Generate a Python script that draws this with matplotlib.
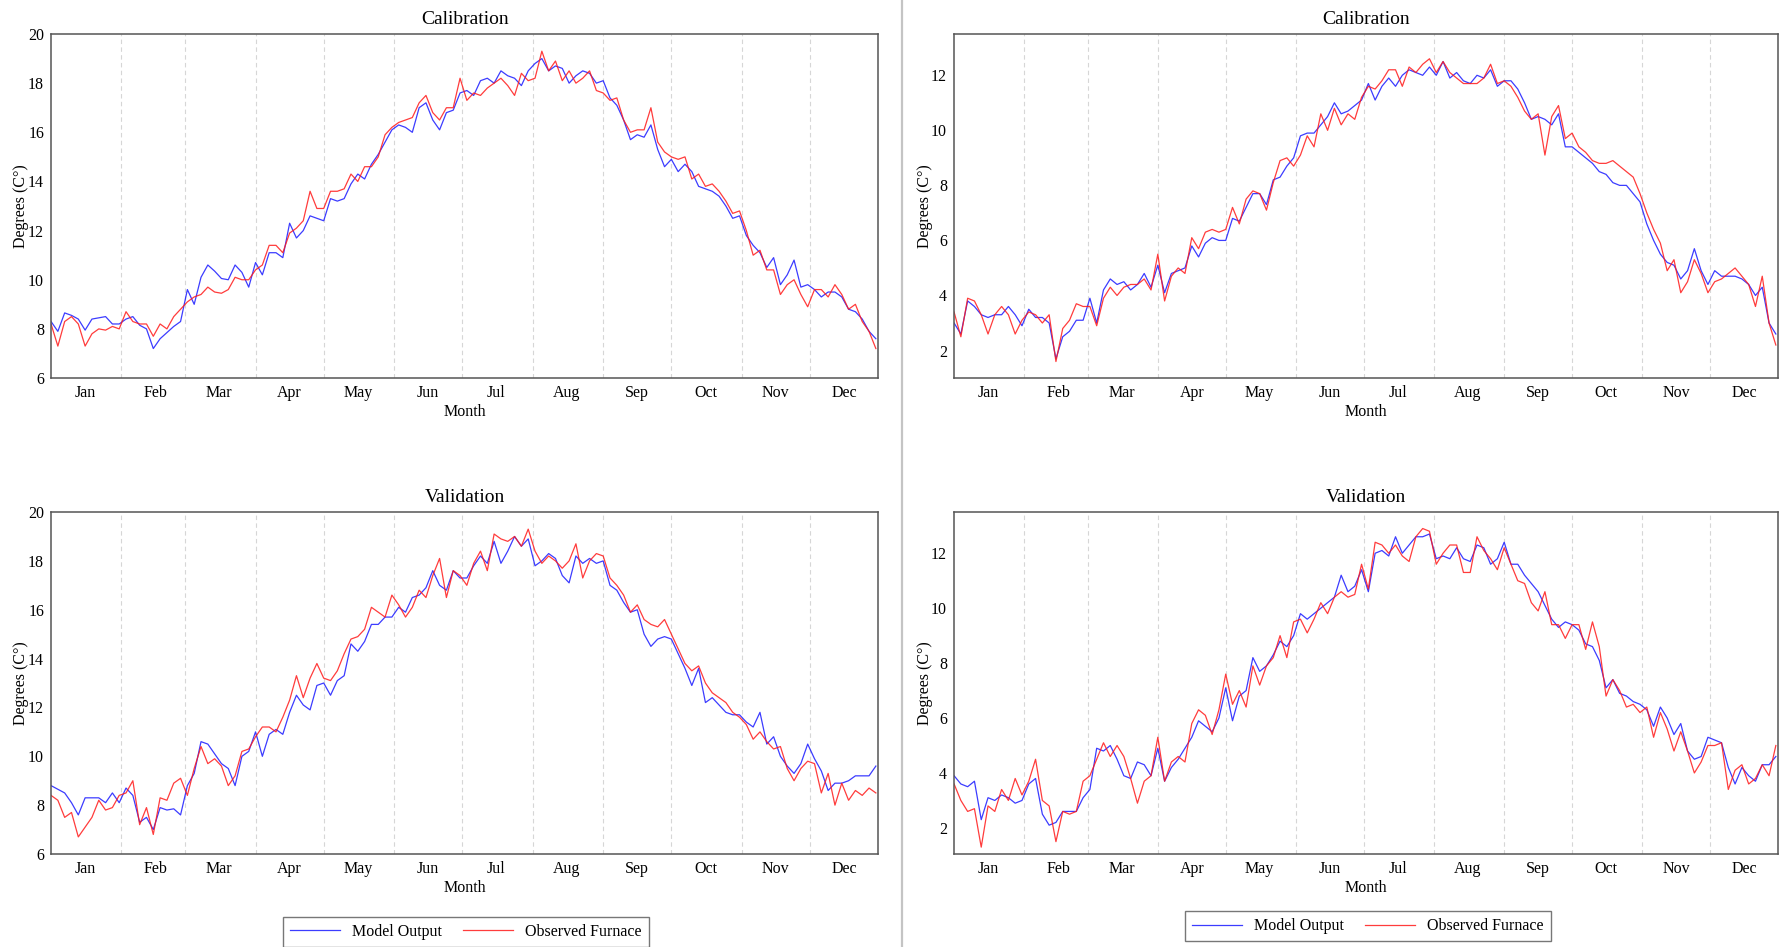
import numpy as np
import matplotlib
matplotlib.use("Agg")
import matplotlib.pyplot as plt
from matplotlib.lines import Line2D

plt.rcParams['font.family'] = ['Liberation Serif', 'DejaVu Serif']

# sampled every 3 days, day of year 0..363
days = np.arange(0, 365, 3)

month_names = ['Jan', 'Feb', 'Mar', 'Apr', 'May', 'Jun', 'Jul', 'Aug', 'Sep', 'Oct', 'Nov', 'Dec']
month_start = [0, 31, 59, 90, 120, 151, 181, 212, 243, 273, 304, 334]

# top left - calibration
cal_left_model = [8.3, 7.9, 8.65, 8.55, 8.4, 7.95, 8.4, 8.45, 8.5, 8.2, 8.2,
                  8.4, 8.5, 8.15, 8.0, 7.2, 7.6, 7.85, 8.1, 8.3,
                  9.6, 9.0, 10.1, 10.6, 10.35, 10.05, 10.0, 10.6, 10.3, 9.7,
                  10.7, 10.2, 11.1, 11.1, 10.9, 12.3, 11.7, 12.0, 12.6, 12.5,
                  12.4, 13.3, 13.2, 13.3, 13.9, 14.3, 14.1, 14.7, 15.1, 15.6, 16.1,
                  16.3, 16.2, 16.0, 17.0, 17.2, 16.5, 16.1, 16.8, 16.9, 17.6,
                  17.7, 17.5, 18.1, 18.2, 18.0, 18.5, 18.3, 18.2, 17.9, 18.5,
                  18.8, 19.0, 18.5, 18.7, 18.6, 18.0, 18.3, 18.5, 18.4, 18.0,
                  18.1, 17.4, 17.1, 16.5, 15.7, 15.9, 15.8, 16.3, 15.3, 14.6,
                  14.9, 14.4, 14.7, 14.4, 13.8, 13.7, 13.6, 13.4, 13.0, 12.5, 12.6,
                  11.8, 11.4, 11.1, 10.5, 10.9, 9.8, 10.2, 10.8, 9.7, 9.8,
                  9.6, 9.3, 9.5, 9.5, 9.3, 8.8, 8.7, 8.4, 7.9, 7.6]
cal_left_obs = [8.2, 7.3, 8.3, 8.5, 8.2, 7.3, 7.8, 8.0, 7.95, 8.1, 8.0,
                8.7, 8.3, 8.2, 8.2, 7.7, 8.2, 8.0, 8.5, 8.8,
                9.1, 9.3, 9.4, 9.7, 9.5, 9.45, 9.6, 10.1, 10.0, 10.0,
                10.4, 10.6, 11.4, 11.4, 11.1, 11.9, 12.1, 12.4, 13.6, 12.9,
                12.9, 13.6, 13.6, 13.7, 14.3, 14.0, 14.6, 14.6, 15.0, 15.9, 16.2,
                16.4, 16.5, 16.6, 17.2, 17.5, 16.8, 16.5, 17.0, 17.0, 18.2,
                17.3, 17.6, 17.5, 17.8, 18.0, 18.2, 17.9, 17.5, 18.4, 18.1,
                18.2, 19.3, 18.5, 18.9, 18.1, 18.5, 18.0, 18.2, 18.5, 17.7,
                17.6, 17.3, 17.4, 16.5, 16.0, 16.1, 16.1, 17.0, 15.6, 15.2,
                15.0, 14.9, 15.0, 14.1, 14.3, 13.8, 13.9, 13.6, 13.2, 12.7, 12.8,
                12.0, 11.0, 11.2, 10.4, 10.4, 9.4, 9.8, 10.0, 9.4, 8.9,
                9.6, 9.6, 9.3, 9.8, 9.4, 8.8, 9.0, 8.3, 7.9, 7.2]

# bottom left - validation
val_left_model = [8.8, 8.65, 8.5, 8.1, 7.6, 8.3, 8.3, 8.3, 8.1, 8.5, 8.1,
                  8.7, 8.4, 7.3, 7.5, 7.0, 7.9, 7.8, 7.85, 7.6,
                  8.8, 9.3, 10.6, 10.5, 10.1, 9.7, 9.5, 8.8, 10.0, 10.2,
                  11.0, 10.0, 10.9, 11.1, 10.9, 11.8, 12.5, 12.1, 11.9, 12.9,
                  13.0, 12.5, 13.1, 13.3, 14.6, 14.3, 14.7, 15.4, 15.4, 15.7, 15.7,
                  16.1, 15.9, 16.5, 16.6, 16.9, 17.6, 17.0, 16.8, 17.6, 17.3,
                  17.3, 17.8, 18.2, 17.9, 18.8, 17.9, 18.4, 19.0, 18.6, 18.9,
                  17.8, 18.0, 18.3, 18.1, 17.4, 17.1, 18.2, 17.9, 18.1, 17.9,
                  18.0, 17.0, 16.8, 16.3, 15.9, 16.0, 15.0, 14.5, 14.8, 14.9,
                  14.8, 14.2, 13.6, 12.9, 13.6, 12.2, 12.4, 12.1, 11.8, 11.7, 11.7,
                  11.4, 11.2, 11.8, 10.5, 10.8, 10.0, 9.6, 9.3, 9.7, 10.5,
                  9.9, 9.4, 8.6, 8.9, 8.9, 9.0, 9.2, 9.2, 9.2, 9.6]
val_left_obs = [8.4, 8.2, 7.5, 7.7, 6.7, 7.1, 7.5, 8.2, 7.8, 7.9, 8.4,
                8.5, 9.0, 7.2, 7.9, 6.8, 8.3, 8.2, 8.9, 9.1,
                8.4, 9.5, 10.4, 9.7, 9.9, 9.6, 8.8, 9.2, 10.2, 10.3,
                10.8, 11.2, 11.2, 11.0, 11.6, 12.3, 13.3, 12.4, 13.2, 13.8,
                13.2, 13.1, 13.5, 14.2, 14.8, 14.9, 15.2, 16.1, 15.9, 15.7, 16.6,
                16.2, 15.7, 16.1, 16.8, 16.5, 17.4, 18.1, 16.5, 17.6, 17.4,
                17.0, 17.9, 18.4, 17.6, 19.1, 18.9, 18.8, 19.0, 18.6, 19.3,
                18.4, 17.9, 18.2, 18.0, 17.7, 18.0, 18.7, 17.3, 18.0, 18.3,
                18.2, 17.3, 17.0, 16.6, 15.9, 16.2, 15.6, 15.4, 15.3, 15.6,
                15.0, 14.4, 13.8, 13.5, 13.7, 13.0, 12.6, 12.4, 12.2, 11.8, 11.6,
                11.3, 10.7, 11.0, 10.6, 10.3, 10.4, 9.5, 9.0, 9.5, 9.8,
                9.7, 8.5, 9.3, 8.0, 8.9, 8.2, 8.6, 8.4, 8.7, 8.5]

# top right - calibration
cal_right_model = [3.0, 2.6, 3.8, 3.6, 3.3, 3.2, 3.3, 3.3, 3.6, 3.3, 2.9,
                   3.5, 3.2, 3.2, 3.0, 1.7, 2.5, 2.7, 3.1, 3.1,
                   3.9, 3.0, 4.2, 4.6, 4.4, 4.5, 4.2, 4.4, 4.8, 4.3,
                   5.1, 4.1, 4.8, 4.9, 5.0, 5.8, 5.4, 5.9, 6.1, 6.0,
                   6.0, 6.8, 6.7, 7.2, 7.7, 7.7, 7.3, 8.2, 8.3, 8.7, 9.0,
                   9.8, 9.9, 9.9, 10.2, 10.5, 11.0, 10.6, 10.7, 10.9, 11.1,
                   11.7, 11.1, 11.6, 11.9, 11.6, 12.0, 12.2, 12.1, 12.0, 12.3,
                   12.0, 12.5, 11.9, 12.1, 11.8, 11.7, 12.0, 11.9, 12.2, 11.6,
                   11.8, 11.8, 11.5, 11.0, 10.4, 10.5, 10.4, 10.2, 10.6, 9.4,
                   9.4, 9.2, 9.0, 8.8, 8.5, 8.4, 8.1, 8.0, 8.0, 7.7, 7.4,
                   6.6, 6.0, 5.5, 5.2, 5.1, 4.6, 4.9, 5.7, 4.9, 4.4,
                   4.9, 4.7, 4.7, 4.7, 4.6, 4.4, 4.0, 4.3, 3.0, 2.6]
cal_right_obs = [3.4, 2.5, 3.9, 3.8, 3.3, 2.6, 3.3, 3.6, 3.3, 2.6, 3.1,
                 3.4, 3.3, 3.0, 3.3, 1.6, 2.8, 3.1, 3.7, 3.6,
                 3.6, 2.9, 3.9, 4.3, 4.0, 4.3, 4.4, 4.4, 4.6, 4.2,
                 5.5, 3.8, 4.7, 5.0, 4.8, 6.1, 5.7, 6.3, 6.4, 6.3,
                 6.4, 7.2, 6.6, 7.5, 7.8, 7.7, 7.1, 8.1, 8.9, 9.0, 8.7,
                 9.1, 9.8, 9.4, 10.6, 10.0, 10.8, 10.2, 10.6, 10.4, 11.2,
                 11.6, 11.5, 11.8, 12.2, 12.2, 11.6, 12.3, 12.1, 12.4, 12.6,
                 12.1, 12.5, 12.1, 11.9, 11.7, 11.7, 11.7, 11.9, 12.4, 11.7,
                 11.8, 11.6, 11.2, 10.7, 10.4, 10.6, 9.1, 10.5, 10.9, 9.7,
                 9.9, 9.4, 9.2, 8.9, 8.8, 8.8, 8.9, 8.7, 8.5, 8.3, 7.7,
                 7.0, 6.4, 5.9, 4.9, 5.3, 4.1, 4.5, 5.3, 4.8, 4.1,
                 4.5, 4.6, 4.8, 5.0, 4.7, 4.4, 3.6, 4.7, 3.0, 2.2]

# bottom right - validation
val_right_model = [3.9, 3.6, 3.5, 3.7, 2.3, 3.1, 3.0, 3.2, 3.1, 2.9, 3.0,
                   3.6, 3.8, 2.5, 2.1, 2.2, 2.6, 2.6, 2.6, 3.1,
                   3.4, 4.9, 4.8, 5.0, 4.5, 3.9, 3.8, 4.4, 4.3, 3.9,
                   4.9, 3.7, 4.2, 4.5, 4.9, 5.3, 5.9, 5.7, 5.5, 6.0,
                   7.1, 5.9, 6.8, 7.0, 8.2, 7.7, 7.9, 8.3, 8.8, 8.6, 9.0,
                   9.8, 9.6, 9.8, 10.0, 10.2, 10.4, 11.2, 10.6, 10.8, 11.4,
                   10.6, 12.0, 12.1, 11.9, 12.6, 12.0, 12.3, 12.6, 12.6, 12.7,
                   11.8, 11.9, 11.8, 12.2, 11.8, 11.7, 12.3, 12.2, 11.6, 11.8,
                   12.4, 11.6, 11.6, 11.2, 10.9, 10.6, 10.1, 9.6, 9.3, 9.5,
                   9.4, 9.2, 8.7, 8.6, 8.1, 7.1, 7.4, 6.9, 6.8, 6.6, 6.5,
                   6.3, 5.7, 6.4, 6.0, 5.4, 5.8, 4.8, 4.5, 4.6, 5.3,
                   5.2, 5.1, 4.2, 3.6, 4.2, 3.9, 3.7, 4.3, 4.3, 4.6]
val_right_obs = [3.6, 3.0, 2.6, 2.7, 1.3, 2.8, 2.6, 3.4, 3.0, 3.8, 3.2,
                 3.7, 4.5, 3.0, 2.8, 1.5, 2.6, 2.5, 2.6, 3.7,
                 3.9, 4.5, 5.1, 4.6, 5.0, 4.6, 3.8, 2.9, 3.7, 3.9,
                 5.3, 3.7, 4.4, 4.6, 4.4, 5.8, 6.3, 6.1, 5.4, 6.3,
                 7.6, 6.5, 7.0, 6.4, 7.9, 7.2, 7.9, 8.2, 9.0, 8.2, 9.5,
                 9.6, 9.1, 9.6, 10.2, 9.8, 10.4, 10.6, 10.4, 10.5, 11.6,
                 10.7, 12.4, 12.3, 12.0, 12.3, 11.9, 11.7, 12.6, 12.9, 12.8,
                 11.6, 12.0, 12.3, 12.3, 11.3, 11.3, 12.6, 12.1, 11.8, 11.4,
                 12.2, 11.6, 11.0, 10.9, 10.2, 9.9, 10.6, 9.4, 9.4, 8.9,
                 9.4, 9.4, 8.5, 9.5, 8.6, 6.8, 7.4, 7.0, 6.4, 6.5, 6.2,
                 6.4, 5.3, 6.2, 5.6, 4.8, 5.5, 4.8, 4.0, 4.4, 5.0,
                 5.0, 5.1, 3.4, 4.1, 4.3, 3.6, 3.8, 4.3, 3.9, 5.0]

fig = plt.figure(figsize=(17.91, 9.47), dpi=100)

panels = [
    ([0.0285, 0.6008, 0.4618, 0.3633], 'Calibration', cal_left_model, cal_left_obs, (6, 20), range(6, 21, 2)),
    ([0.0285, 0.0982, 0.4618, 0.3611], 'Validation', val_left_model, val_left_obs, (6, 20), range(6, 21, 2)),
    ([0.5327, 0.6008, 0.4601, 0.3633], 'Calibration', cal_right_model, cal_right_obs, (1.0, 13.5), range(2, 13, 2)),
    ([0.5327, 0.0982, 0.4601, 0.3611], 'Validation', val_right_model, val_right_obs, (1.05, 13.5), range(2, 13, 2)),
]

axes = []
for rect, title, model, obs, ylim, yt in panels:
    ax = fig.add_axes(rect)
    ax.plot(days, model, color='#1a1aff', linewidth=0.9, alpha=0.85, label='Model Output')
    ax.plot(days, obs, color='#ff1a1a', linewidth=0.9, alpha=0.85, label='Observed Furnace')
    for m in month_start[1:]:
        ax.axvline(m, color='#d6d6d6', linestyle=(0, (4, 3)), linewidth=0.8, zorder=0)
    ax.set_xlim(0, 364)
    ax.set_ylim(*ylim)
    ax.set_yticks(list(yt))
    ax.set_xticks([s + 15 for s in month_start])
    ax.set_xticklabels(month_names)
    ax.tick_params(length=0, labelsize=11.5, pad=5)
    for sp in ax.spines.values():
        sp.set_color('#555555')
        sp.set_linewidth(1.1)
    ax.set_title(title, fontsize=14, pad=7)
    ax.set_xlabel('Month', fontsize=11.5, labelpad=2)
    ax.set_ylabel('Degrees (C°)', fontsize=11.5, labelpad=-1)
    axes.append(ax)

for ax, cx, top in [(axes[1], 0.2602, 0.032), (axes[3], 0.7638, 0.038)]:
    h, l = ax.get_legend_handles_labels()
    leg = fig.legend(h, l, loc='upper center', bbox_to_anchor=(cx, top), ncol=2,
                     fontsize=11.5, frameon=True, fancybox=False, borderaxespad=0,
                     handlelength=3.1, columnspacing=1.3, borderpad=0.45)
    leg.get_frame().set_edgecolor('#555555')
    leg.get_frame().set_linewidth(1.0)

fig.add_artist(Line2D([0.5036, 0.5036], [0, 1], transform=fig.transFigure,
                      color='#c4c4c4', linewidth=1.6))

fig.savefig('out.png', dpi=100)
